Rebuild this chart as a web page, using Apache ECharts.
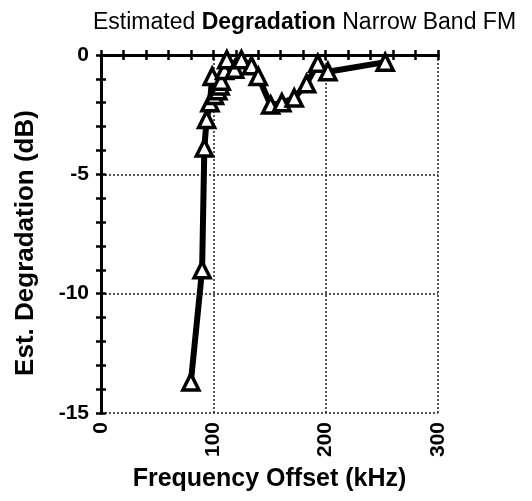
<!DOCTYPE html>
<html>
<head>
  <meta charset="utf-8">
  <title>Estimated Degradation Narrow Band FM</title>
  <script src="https://cdn.jsdelivr.net/npm/echarts@6/dist/echarts.min.js"></script>
  <style>
    html,body { margin: 0; padding: 0; background: #fff; }
  </style>
</head>
<body>
  <div id="main" style="width: 532px;height:501px;"></div>
  <script>
    // frequency offset (kHz) and estimated degradation (dB)
    var freq = [80, 90, 92, 94, 97, 99, 101, 104, 106, 107, 110, 112, 119, 125, 134, 140, 151, 161, 172, 183, 193, 202, 253];
    var degr = [-13.7, -9.0, -3.9, -2.7, -2.0, -0.9, -1.7, -1.5, -1.3, -1.1, -0.65, -0.2, -0.6, -0.2, -0.45, -0.9, -2.1, -2.0, -1.8, -1.2, -0.35, -0.7, -0.3];
    var xTicks = [0, 100, 200, 300];
    var yTicks = [0, -5, -10, -15];

    var pts = [];
    for (var i = 0; i < freq.length; i++) {
      pts.push([freq[i], degr[i]]);
    }

    var chart = echarts.init(document.getElementById('main'));
    var tickFont = { fontFamily: 'Liberation Sans', fontWeight: 'bold', fontSize: 21, color: '#000' };
    var axisLine = { show: true, lineStyle: { color: '#000', width: 3 } };
    var tick = { show: true, inside: true, length: 5, lineStyle: { color: '#000', width: 2.5 } };
    var minor = { show: true, splitNumber: 5, length: 5, lineStyle: { color: '#000', width: 2.5 } };
    var grid = { show: true, lineStyle: { color: '#222', width: 1.5, type: [2, 2] } };

    function frameAxis(pos, isX) {
      return {
        type: 'value',
        position: pos,
        min: isX ? xTicks[0] : yTicks[yTicks.length - 1],
        max: isX ? xTicks[xTicks.length - 1] : yTicks[0],
        interval: isX ? 100 : 5,
        axisLine: axisLine,
        axisTick: tick,
        minorTick: minor,
        axisLabel: { show: false },
        splitLine: { show: false }
      };
    }

    var option = {
      animation: false,
      title: {
        text: '{n|Estimated }{b|Degradation}{n| Narrow Band FM}',
        left: 88,
        top: 6,
        textStyle: {
          rich: {
            n: { fontFamily: 'Liberation Sans', fontSize: 23, fontWeight: 'normal', color: '#000' },
            b: { fontFamily: 'Liberation Sans', fontSize: 23, fontWeight: 'bold', color: '#000' }
          }
        }
      },
      grid: { left: 101, right: 94, top: 55, bottom: 88 },
      xAxis: [{
        type: 'value',
        position: 'bottom',
        min: 0,
        max: 300,
        interval: 100,
        name: 'Frequency Offset (kHz)',
        nameLocation: 'middle',
        nameGap: 54,
        nameTextStyle: { fontFamily: 'Liberation Sans', fontWeight: 'bold', fontSize: 25, color: '#000' },
        axisLine: axisLine,
        axisTick: tick,
        minorTick: minor,
        axisLabel: Object.assign({ rotate: 90, margin: 9 }, tickFont),
        splitLine: grid
      }, frameAxis('top', true)],
      yAxis: [{
        type: 'value',
        position: 'left',
        min: -15,
        max: 0,
        interval: 5,
        name: 'Est. Degradation (dB)',
        nameLocation: 'middle',
        nameGap: 62,
        nameTextStyle: { fontFamily: 'Liberation Sans', fontWeight: 'bold', fontSize: 26, color: '#000', padding: [0, 0, 0, -18] },
        axisLine: axisLine,
        axisTick: tick,
        minorTick: minor,
        axisLabel: Object.assign({ margin: 12, padding: [0, 0, 5, 0] }, tickFont),
        splitLine: grid
      }, frameAxis('right', false)],
      series: [{
        type: 'line',
        data: pts,
        symbol: 'triangle',
        symbolSize: 16,
        itemStyle: { color: '#fff', borderColor: '#000', borderWidth: 3.5 },
        lineStyle: { color: '#000', width: 6 }
      }]
    };
    chart.setOption(option);
  </script>
</body>
</html>
